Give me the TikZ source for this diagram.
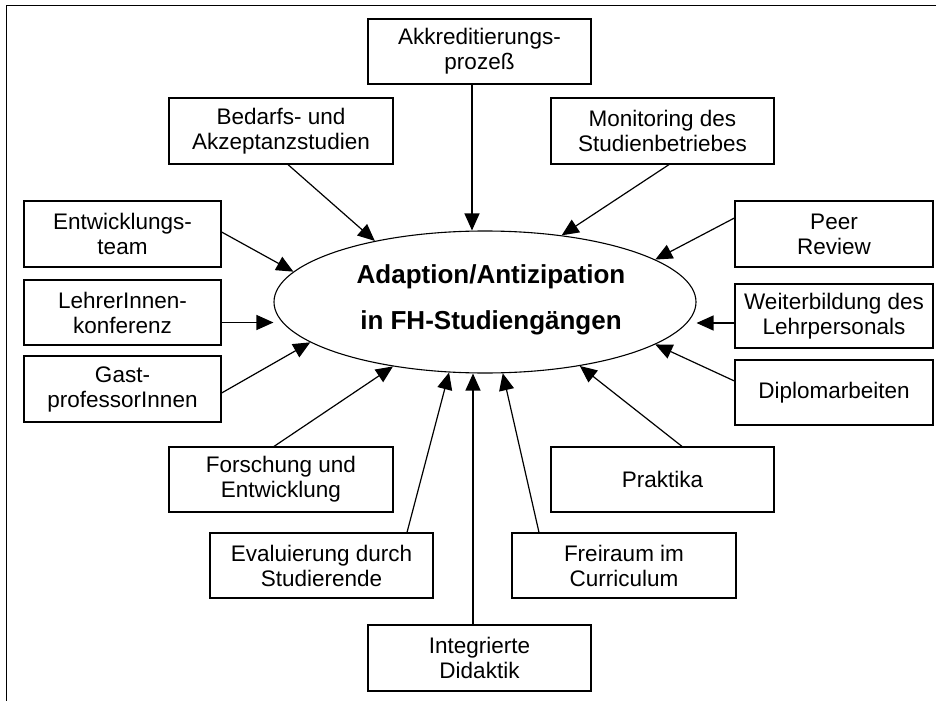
\documentclass[tikz,border=0pt]{standalone}
\usepackage{fontspec}
\setmainfont{Liberation Sans}
\usetikzlibrary{arrows.meta,shapes.geometric}
\begin{document}
\begin{tikzpicture}[x=1pt,y=-1pt,
  box/.style={draw, line width=1.2pt, rectangle, inner sep=0pt, align=center,
    font=\fontsize{22.5}{25}\selectfont},
  arr/.style={line width=1.2pt, -{Triangle[length=17pt,width=15pt]}},
  ttl/.style={font=\fontsize{26}{30}\selectfont\bfseries, anchor=base, inner sep=0pt}
]
\useasboundingbox (0,0) rectangle (946,701);
\draw[line width=1pt] (936,6) -- (6,6) -- (6,701);

% central ellipse
\node[draw, ellipse, line width=1.1pt, minimum width=422pt, minimum height=142pt, inner sep=0pt] (ell) at (485,302) {};
\node[ttl] (t1) at (491,283) {Adaption/Antizipation};
\node[ttl] (t2) at (491,329) {in FH-Studiengängen};

% boxes
\node[box, minimum width=223pt, minimum height=65pt] (akk) at (479.5,51.5) {Akkreditierungs-\\prozeß};
\node[box, minimum width=224pt, minimum height=66pt] (bed) at (281,131) {Bedarfs- und\\Akzeptanzstudien};
\node[box, minimum width=223pt, minimum height=66pt] (mon) at (662.5,131) {Monitoring des\\Studienbetriebes};
\node[box, minimum width=197pt, minimum height=66pt] (ent) at (122.5,234) {Entwicklungs-\\team};
\node[box, minimum width=197pt, minimum height=65pt] (leh) at (122.5,312.5) {LehrerInnen-\\konferenz};
\node[box, minimum width=197pt, minimum height=66pt] (gas) at (122.5,389) {Gast-\\professorInnen};
\node[box, minimum width=224pt, minimum height=65pt] (for) at (281,479.5) {Forschung und\\Entwicklung};
\node[box, minimum width=223pt, minimum height=65pt] (eva) at (321.5,565.5) {Evaluierung durch\\Studierende};
\node[box, minimum width=223pt, minimum height=66pt] (int) at (479.5,658) {Integrierte\\Didaktik};
\node[box, minimum width=224pt, minimum height=65pt] (fre) at (624,565.5) {Freiraum im\\Curriculum};
\node[box, minimum width=223pt, minimum height=65pt] (pra) at (662.5,479.5) {Praktika};
\node[box, minimum width=198pt, minimum height=65pt] (dip) at (834,392.5) {Diplomarbeiten};
\node[box, minimum width=198pt, minimum height=64pt] (wei) at (834,316) {Weiterbildung des\\Lehrpersonals};
\node[box, minimum width=198pt, minimum height=66pt] (pee) at (834,234) {Peer\\Review};

% connectors
\draw[arr] ([xshift=-7.5pt]akk.south) -- ([xshift=-7.5pt]akk.south |- ell.north);
\draw[arr] ([xshift=7pt]bed.south) -- (ell.151);
\draw[arr] ([xshift=6.5pt]mon.south) -- (ell.41);
\draw[arr] ([yshift=2pt]ent.east) -- (ell.171);
\draw[arr] ([yshift=-10pt]leh.east) -- ([yshift=-10pt]leh.east -| ell.west);
\draw[arr] ([yshift=-4pt]gas.east) -- (ell.193);
\draw[arr] ([xshift=-7pt]for.north) -- (ell.215);
\draw[arr] ([xshift=85.5pt]eva.north) -- (ell.243);
\draw[arr] ([xshift=-6.5pt]int.north) -- ([xshift=-6.5pt]int.north |- ell.south);
\draw[arr] ([xshift=-85pt]fre.north) -- (ell.284);
\draw[arr] ([xshift=19.5pt]pra.north) -- (ell.326);
\draw[arr] ([yshift=11.5pt]dip.west) -- (ell.346);
\draw[arr] ([yshift=-7pt]wei.west) -- ([yshift=-7pt]wei.west -| ell.east);
\draw[arr] ([yshift=16pt]pee.west) -- (ell.14);
\end{tikzpicture}
\end{document}
